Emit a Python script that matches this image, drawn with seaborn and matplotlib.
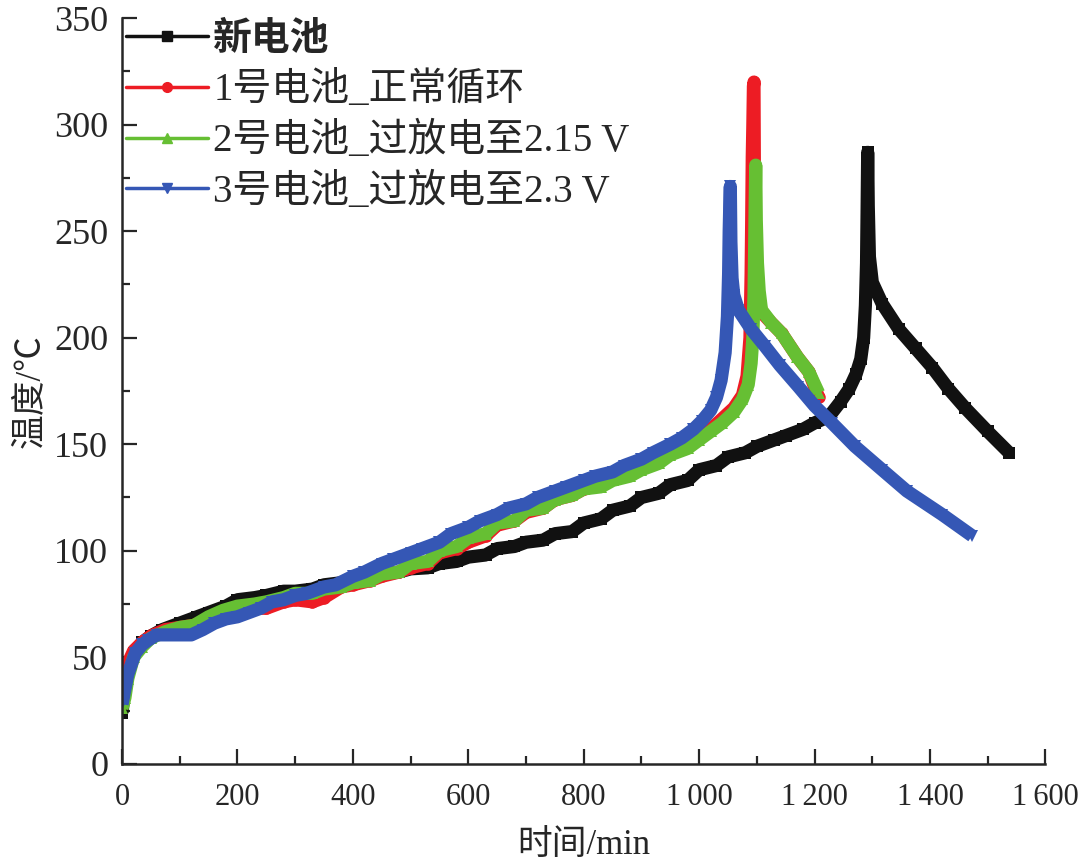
import matplotlib
matplotlib.use('Agg')
import matplotlib.pyplot as plt
import seaborn as sns
import pandas as pd
from matplotlib.lines import Line2D
from matplotlib.ticker import MultipleLocator

# series labels and colours
labels = ['新电池', '1号电池_正常循环', '2号电池_过放电至2.15 V', '3号电池_过放电至2.3 V']
colors = ['#111111', '#ed1c24', '#66bf33', '#3557b5']
markers = ['s', 'o', '^', 'v']

# 新电池
t_new = [0, 5, 10, 20, 35, 50, 70, 100, 130, 150, 180, 200, 230, 250, 280, 300, 330, 350, 380, 400,
         430, 450, 480, 500, 530, 550, 580, 600, 630, 650, 680, 700, 730, 750, 780, 800, 830, 850, 880, 900,
         930, 950, 980, 1000, 1030, 1050, 1080, 1100, 1130, 1150, 1180, 1200, 1225, 1245, 1260, 1272, 1280,
         1285, 1288, 1290, 1291, 1292, 1293, 1295, 1300, 1317, 1346, 1375, 1404, 1432, 1461, 1500, 1537]
T_new = [24, 36, 45, 52, 57, 60, 63, 66, 69, 71, 74, 77, 78, 79, 81, 81, 82, 84, 85, 86,
         87, 89, 90, 91.5, 92, 94, 95, 97, 98, 101, 102, 104, 105, 108, 109, 113, 115, 119, 121, 125,
         127, 131, 133, 138, 140, 144, 146, 149, 152, 154, 157, 160, 163, 170, 176, 183, 190,
         200, 215, 235, 260, 287, 262, 238, 226, 216, 204, 195, 186, 176, 167, 156, 146]

# 1号电池 正常循环
t_1 = [0, 5, 10, 20, 35, 50, 75, 100, 125, 150, 175, 200, 230, 250, 280, 300, 330, 350, 380, 400,
       430, 450, 480, 500, 530, 550, 580, 600, 630, 650, 680, 700, 730, 750, 780, 800, 830, 850, 880, 900,
       930, 950, 980, 1000, 1020, 1040, 1060, 1075, 1083, 1088, 1090, 1091, 1092, 1093, 1094, 1095,
       1096, 1098, 1101, 1104, 1108, 1125, 1143, 1170, 1190, 1207]
T_1 = [28, 40, 47, 53, 57, 60, 63, 64, 65, 68, 71, 72, 73, 73, 76, 77, 76, 78, 83, 84,
       86, 88, 90, 92, 94, 99, 101, 104, 107, 112, 114, 118, 120, 124, 126, 129, 131, 134, 136, 139,
       142, 146, 149, 153, 157, 162, 167, 173, 182, 200, 230, 255, 285, 300, 318, 320,
       260, 235, 225, 218, 212, 207, 202, 191, 184, 172]

# 2号电池 过放电至2.15 V
t_2 = [0, 5, 10, 20, 35, 50, 75, 100, 125, 150, 175, 200, 230, 250, 280, 300, 330, 350, 380, 400,
       430, 450, 480, 500, 530, 550, 580, 600, 630, 650, 680, 700, 730, 750, 780, 800, 830, 850, 880, 900,
       930, 950, 980, 1000, 1020, 1040, 1060, 1075, 1085, 1090, 1093, 1095, 1096, 1097, 1098, 1099,
       1101, 1104, 1108, 1125, 1143, 1170, 1190, 1207]
T_2 = [26, 31, 40, 50, 55, 59, 62, 64, 65, 69, 72, 74, 75, 76, 78, 80, 80, 82, 83, 85,
       86, 89, 90, 94, 95, 100, 102, 106, 108, 113, 114, 119, 120, 124, 126, 129, 130, 133, 135, 138,
       141, 145, 148, 152, 156, 160, 165, 171, 178, 188, 200, 220, 240, 262, 281, 255,
       235, 222, 213, 207, 202, 191, 184, 174]

# 3号电池 过放电至2.3 V
t_3 = [0, 5, 10, 23, 35, 45, 60, 90, 120, 140, 160, 180, 200, 220, 240, 260, 280, 300, 320, 350,
       370, 400, 420, 450, 470, 500, 520, 550, 570, 600, 620, 650, 670, 700, 720, 750, 770, 800, 820, 850,
       870, 900, 920, 950, 970, 990, 1005, 1020, 1030, 1038, 1045, 1049, 1051, 1052, 1053, 1054, 1055,
       1057, 1060, 1068, 1090, 1114, 1140, 1172, 1200, 1230, 1270, 1317, 1360, 1421, 1473]
T_3 = [28, 35, 42, 52, 56, 58, 60.5, 60.5, 60.5, 63, 66, 68, 69, 71, 73, 76, 77, 79, 80, 83,
       84, 88, 90, 94, 96, 99, 101, 104, 108, 111, 114, 117, 120, 122, 125, 128, 130, 133, 135, 137,
       140, 143, 146, 150, 153, 157, 161, 166, 172, 180, 193, 210, 230, 250, 262, 271, 245,
       228, 220, 213, 204, 196, 187, 177, 168, 160, 149, 138, 128, 117, 107]

x_ticks = [0, 200, 400, 600, 800, 1000, 1200, 1400, 1600]
x_tick_labels = ['0', '200', '400', '600', '800', '1\u2009000', '1\u2009200', '1\u2009400', '1\u2009600']
y_ticks = [0, 50, 100, 150, 200, 250, 300, 350]

sns.set_style('ticks')
plt.rcParams['font.family'] = ['Liberation Serif', 'Noto Sans CJK SC', 'DejaVu Sans']
plt.rcParams['axes.linewidth'] = 1.8

fig = plt.figure(figsize=(10.8, 8.64), dpi=100)
ax = fig.add_axes([0.113, 0.116, 0.855, 0.863])

series = [(t_new, T_new), (t_1, T_1), (t_2, T_2), (t_3, T_3)]
for (t, T), lab, c, m in zip(series, labels, colors, markers):
    df = pd.DataFrame({'time': t, 'temp': T})
    sns.lineplot(data=df, x='time', y='temp', ax=ax, color=c, marker=m, markersize=9,
                 markeredgewidth=0, linewidth=9.5, sort=False, estimator=None,
                 solid_joinstyle='round', solid_capstyle='butt', legend=False)

ax.set_xlim(0, 1600)
ax.set_ylim(0, 350)
ax.set_xticks(x_ticks)
ax.set_xticklabels(x_tick_labels)
ax.set_yticks(y_ticks)
ax.xaxis.set_minor_locator(MultipleLocator(100))
ax.yaxis.set_minor_locator(MultipleLocator(25))
ax.tick_params(which='major', direction='in', length=11, width=1.6)
ax.tick_params(axis='x', which='major', pad=14, labelsize=22)
ax.tick_params(axis='y', which='major', pad=10, labelsize=26)
ax.tick_params(which='minor', direction='in', length=6, width=1.6)
for side in ['top', 'right']:
    ax.spines[side].set_visible(False)

ax.set_xlabel('时间/min', fontsize=25, labelpad=12)
ax.set_ylabel('温度/℃', fontsize=25, labelpad=5)

handles = [Line2D([0], [0], color=c, marker=m, markersize=7, linewidth=2.5)
           for c, m in zip(colors, markers)]
leg = ax.legend(handles, labels, loc='upper left', bbox_to_anchor=(0.0, 1.0), frameon=False,
                fontsize=28, handlelength=2.1, handletextpad=0.15, labelspacing=0.32,
                borderaxespad=0, borderpad=0.1)
leg.get_texts()[0].set_fontweight('bold')

fig.savefig('out.png', dpi=100)
